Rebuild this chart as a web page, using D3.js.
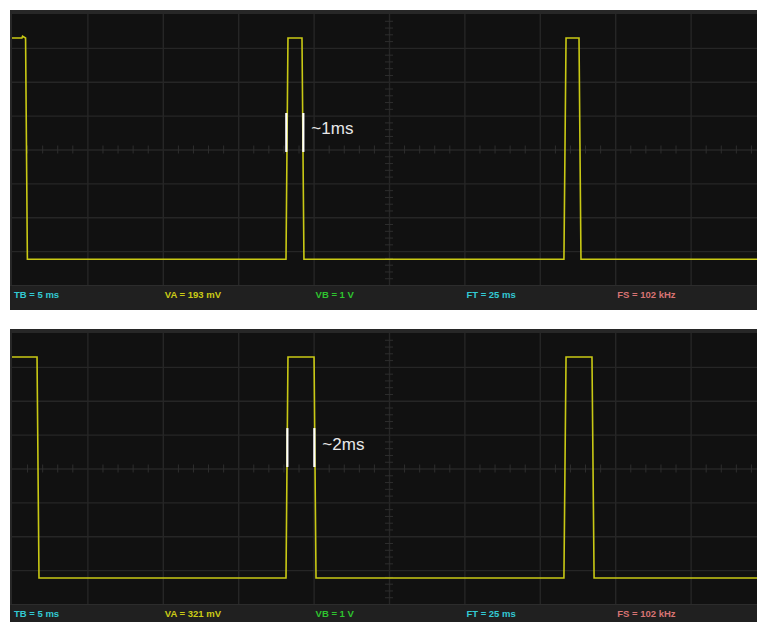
<!DOCTYPE html>
<html>
<head>
<meta charset="utf-8">
<script src="https://cdn.jsdelivr.net/npm/d3@7"></script>
<style>
  body { margin: 0; background: #fff; }
  svg { display: block; }
</style>
</head>
<body>
<div id="chart"></div>
<script>
// time base 5 ms/div, 10 divisions across, 8 divisions high
const msPerDiv = 5;
const vaPerDiv = [0.193, 0.321]; // volts per division, channel A
const statusText = [
  ["TB = 5 ms", "VA = 193 mV", "VB = 1 V", "FT = 25 ms", "FS = 102 kHz"],
  ["TB = 5 ms", "VA = 321 mV", "VB = 1 V", "FT = 25 ms", "FS = 102 kHz"]
];
const statusColors = ["#33c9d3", "#caca16", "#2fc42f", "#33c9d3", "#d77373"];

// trace samples [ms, volts]
const trace1 = [
  [0, 0.635], [0.66, 0.635], [0.7, 0.645], [0.9, 0.635], [1.02, -0.625],
  [18.17, -0.625], [18.3, 0.635], [19.23, 0.635], [19.36, -0.625],
  [36.6, -0.625], [36.74, 0.635], [37.6, 0.635], [37.73, -0.625], [49.5, -0.625]
];
const trace2 = [
  [0, 1.056], [1.66, 1.056], [1.79, -1.037],
  [18.17, -1.037], [18.3, 1.056], [20.03, 1.056], [20.16, -1.037],
  [36.6, -1.037], [36.74, 1.056], [38.46, 1.056], [38.6, -1.037], [49.5, -1.037]
];
const traces = [trace1, trace2];

// width markers: [t1, t2, vTop, vBottom], label
const markers = [[18.19, 19.32, 0.208, -0.014], [18.26, 20.05, 0.383, 0.014]];
const markerLabels = ["~1ms", "~2ms"];

const W = 757, H = 622;
const svg = d3.select("#chart").append("svg").attr("width", W).attr("height", H);

const panelTops = [10, 329];

panelTops.forEach((top, i) => {
  const plotLeft = 12, plotTop = top + 4, plotH = 271, plotW = 754;
  const x = d3.scaleLinear().domain([0, 10 * msPerDiv]).range([plotLeft, plotLeft + plotW]);
  const y = d3.scaleLinear().domain([-4 * vaPerDiv[i], 4 * vaPerDiv[i]]).range([plotTop + plotH, plotTop]);

  const g = svg.append("g");

  // frame + screen
  g.append("rect").attr("x", 10).attr("y", top).attr("width", W).attr("height", 300).attr("fill", "#272727");
  g.append("rect").attr("x", plotLeft).attr("y", plotTop).attr("width", plotW).attr("height", plotH).attr("fill", "#111111");

  // grid
  const xGrid = d3.range(1, 10).map(k => k * msPerDiv);
  const yGrid = d3.range(-3, 4).map(k => k * vaPerDiv[i]);
  g.append("g")
    .attr("transform", "translate(0," + plotTop + ")")
    .call(d3.axisBottom(x).tickValues(xGrid).tickSize(plotH).tickFormat(""))
    .call(a => a.select(".domain").remove())
    .call(a => a.selectAll("line").attr("stroke", "#262626").attr("stroke-width", 1.4));
  g.append("g")
    .attr("transform", "translate(" + plotLeft + ",0)")
    .call(d3.axisRight(y).tickValues(yGrid).tickSize(plotW).tickFormat(""))
    .call(a => a.select(".domain").remove())
    .call(a => a.selectAll("line").attr("stroke", "#262626").attr("stroke-width", 1.4));

  // minor ticks on the centre lines
  const cx = x(5 * msPerDiv), cy = y(0);
  const xMinor = d3.range(1, 50).filter(k => k % 5 !== 0).map(k => k * msPerDiv / 5);
  const yMinor = d3.range(-19, 20).filter(k => k % 5 !== 0).map(k => k * vaPerDiv[i] / 5);
  g.append("g")
    .attr("transform", "translate(0," + (cy - 4) + ")")
    .call(d3.axisBottom(x).tickValues(xMinor).tickSize(8).tickFormat(""))
    .call(a => a.select(".domain").remove())
    .call(a => a.selectAll("line").attr("stroke", "#2e2e2e").attr("stroke-width", 1));
  g.append("g")
    .attr("transform", "translate(" + (cx - 4) + ",0)")
    .call(d3.axisRight(y).tickValues(yMinor).tickSize(8).tickFormat(""))
    .call(a => a.select(".domain").remove())
    .call(a => a.selectAll("line").attr("stroke", "#2e2e2e").attr("stroke-width", 1));

  // status bar
  const barY = plotTop + plotH;
  g.append("rect").attr("x", 10).attr("y", barY).attr("width", W).attr("height", 25).attr("fill", "#202020");
  g.append("line").attr("x1", 10).attr("x2", W).attr("y1", barY + 0.5).attr("y2", barY + 0.5)
    .attr("stroke", "#2c2c2c");
  g.selectAll(".status")
    .data(statusText[i])
    .enter()
    .append("text")
    .attr("class", "status")
    .attr("x", (d, k) => x(k * 2 * msPerDiv) + 2)
    .attr("y", barY + 13)
    .attr("font-family", "Liberation Sans, Arial, sans-serif")
    .attr("font-weight", "bold")
    .attr("font-size", 9.5)
    .attr("fill", (d, k) => statusColors[k])
    .text(d => d);

  // trace
  const line = d3.line().x(d => x(d[0])).y(d => y(d[1]));
  g.append("path")
    .datum(traces[i])
    .attr("d", line)
    .attr("fill", "none")
    .attr("stroke", "#c9c914")
    .attr("stroke-width", 1.6);

  // width markers
  const m = markers[i];
  g.selectAll(".marker")
    .data([m[0], m[1]])
    .enter()
    .append("line")
    .attr("x1", d => x(d)).attr("x2", d => x(d))
    .attr("y1", y(m[2])).attr("y2", y(m[3]))
    .attr("stroke", "#ffffff")
    .attr("stroke-width", 2.2);
  g.append("text")
    .attr("x", x(m[1]) + 8)
    .attr("y", (y(m[2]) + y(m[3])) / 2 + 2)
    .attr("font-family", "Liberation Sans, Arial, sans-serif")
    .attr("font-size", 17)
    .attr("fill", "#e8e8e8")
    .text(markerLabels[i]);
});
</script>
</body>
</html>
